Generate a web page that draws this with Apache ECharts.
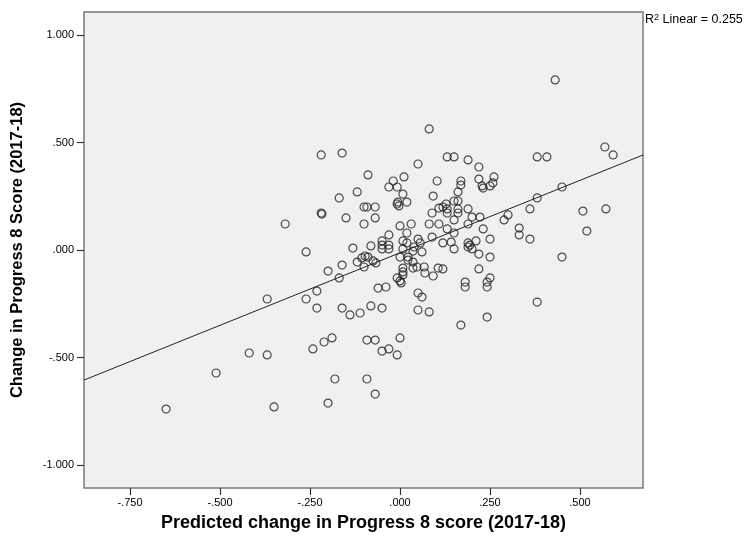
<!DOCTYPE html>
<html>
<head>
<meta charset="utf-8">
<script src="https://cdn.jsdelivr.net/npm/echarts@6/dist/echarts.min.js"></script>
<style>
html,body{margin:0;padding:0;background:#fff;}
#chart{width:749px;height:541px;}
</style>
</head>
<body>
<div id="chart"></div>
<script>
// Observed schools: [predicted change, actual change]
const schools = [
  [0.431,0.791],[0.081,0.563],[-0.219,0.442],[-0.161,0.451],[0.050,0.400],[0.131,0.433],[0.150,0.433],[0.189,0.419],
  [0.219,0.386],[0.381,0.433],[0.408,0.433],[0.569,0.479],[0.592,0.442],[-0.089,0.349],[0.011,0.340],[-0.019,0.321],
  [-0.031,0.293],[-0.008,0.293],[0.103,0.321],[-0.119,0.270],[0.008,0.260],[-0.169,0.242],[0.092,0.251],[-0.006,0.223],
  [-0.008,0.214],[-0.003,0.205],[0.019,0.223],[-0.100,0.200],[-0.092,0.200],[-0.069,0.200],[-0.219,0.172],[-0.217,0.167],
  [0.089,0.172],[0.108,0.195],[-0.150,0.149],[-0.069,0.149],[-0.319,0.121],[-0.100,0.121],[0.000,0.112],[0.031,0.121],
  [0.081,0.121],[0.108,0.121],[0.019,0.079],[-0.031,0.070],[0.050,0.051],[0.089,0.060],[-0.050,0.042],[-0.050,0.023],
  [-0.050,0.005],[-0.031,0.023],[-0.031,0.005],[0.008,0.042],[0.019,0.033],[0.039,0.014],[0.056,0.033],[-0.081,0.019],
  [-0.131,0.009],[-0.261,-0.009],[0.008,0.005],[0.036,-0.005],[0.061,-0.009],[0.000,-0.033],[0.022,-0.033],[0.022,-0.047],
  [-0.097,-0.028],[-0.089,-0.033],[-0.106,-0.037],[-0.119,-0.056],[-0.075,-0.051],[-0.067,-0.060],[0.036,-0.056],[0.047,-0.079],
  [0.036,-0.084],[0.067,-0.079],[0.106,-0.084],[-0.161,-0.070],[-0.100,-0.079],[0.008,-0.084],[0.008,-0.102],[0.069,-0.107],
  [0.092,-0.121],[-0.200,-0.098],[-0.169,-0.130],[0.008,-0.116],[-0.008,-0.130],[0.000,-0.144],[0.003,-0.153],[-0.061,-0.177],
  [-0.039,-0.172],[-0.231,-0.191],[-0.369,-0.228],[-0.261,-0.228],[0.050,-0.200],[0.061,-0.219],[-0.231,-0.270],[-0.161,-0.270],
  [-0.081,-0.260],[-0.050,-0.270],[-0.139,-0.302],[-0.111,-0.293],[0.050,-0.279],[0.081,-0.288],[0.169,0.321],[0.169,0.302],
  [0.219,0.330],[0.261,0.340],[0.258,0.312],[0.250,0.298],[0.228,0.298],[0.231,0.288],[0.161,0.270],[0.150,0.228],
  [0.161,0.228],[0.128,0.214],[0.119,0.200],[0.131,0.191],[0.161,0.191],[0.161,0.172],[0.189,0.191],[0.131,0.172],
  [0.150,0.140],[0.200,0.153],[0.222,0.153],[0.189,0.121],[0.131,0.098],[0.150,0.079],[0.231,0.098],[0.250,0.051],
  [0.142,0.037],[0.119,0.033],[0.189,0.033],[0.189,0.014],[0.194,0.023],[0.211,0.042],[0.150,0.005],[0.200,0.005],
  [0.219,-0.019],[0.250,-0.033],[0.300,0.163],[0.289,0.140],[0.381,0.242],[0.450,0.293],[0.361,0.191],[0.331,0.102],
  [0.331,0.070],[0.361,0.051],[0.508,0.181],[0.572,0.191],[0.519,0.088],[0.450,-0.033],[0.119,-0.088],[0.219,-0.088],
  [0.250,-0.130],[0.181,-0.149],[0.181,-0.172],[0.242,-0.149],[0.242,-0.172],[0.381,-0.242],[0.242,-0.312],[0.169,-0.349],
  [-0.419,-0.479],[-0.369,-0.488],[-0.242,-0.460],[-0.211,-0.428],[-0.189,-0.409],[-0.092,-0.419],[-0.069,-0.419],[-0.050,-0.470],
  [-0.031,-0.460],[-0.008,-0.488],[0.000,-0.409],[-0.181,-0.600],[-0.092,-0.600],[-0.069,-0.670],[-0.200,-0.712],[-0.350,-0.730],
  [-0.650,-0.740],[-0.511,-0.572]
];
// Fit line end points as seen at the plot edges
const fitX = [-0.878, 0.675];
const fitY = [-0.605, 0.442];
const xTicks = [-0.75, -0.5, -0.25, 0, 0.25, 0.5];
const yTicks = [-1, -0.5, 0, 0.5, 1];
const xTitle = 'Predicted change in Progress 8 score (2017-18)';
const yTitle = 'Change in Progress 8 Score (2017-18)';
const r2Text = '0.255';

function fmt(v){
  let s = Math.abs(v).toFixed(3);
  if (s.startsWith('0')) s = s.slice(1);
  return (v < 0 ? '-' : '') + s;
}

const lineData = fitX.map((x, i) => [x, fitY[i]]);

const chart = echarts.init(document.getElementById('chart'), null, {renderer: 'canvas'});
const font = 'Liberation Sans, Arial, sans-serif';
chart.setOption({
  animation: false,
  backgroundColor: '#ffffff',
  grid: {
    left: 84, right: 106, top: 12, bottom: 53,
    show: true, backgroundColor: '#f0f0f0', borderColor: '#7a7a7a', borderWidth: 1.5
  },
  xAxis: {
    type: 'value', min: -0.878, max: 0.675,
    splitLine: {show: false},
    axisLine: {show: false, onZero: false},
    axisTick: {show: true, inside: false, customValues: xTicks, length: 7, lineStyle: {color: '#333', width: 1.2}},
    axisLabel: {customValues: xTicks, formatter: fmt, color: '#000', fontFamily: font, fontSize: 11, margin: 9},
    name: xTitle, nameLocation: 'middle', nameGap: 26,
    nameTextStyle: {color: '#000', fontFamily: font, fontSize: 18, fontWeight: 'bold'}
  },
  yAxis: {
    type: 'value', min: -1.107, max: 1.107,
    splitLine: {show: false},
    axisLine: {show: false, onZero: false},
    axisTick: {show: true, inside: false, customValues: yTicks, length: 7, lineStyle: {color: '#333', width: 1.2}},
    axisLabel: {customValues: yTicks, formatter: fmt, color: '#000', fontFamily: font, fontSize: 11, margin: 10},
    name: yTitle, nameLocation: 'middle', nameGap: 58,
    nameTextStyle: {color: '#000', fontFamily: font, fontSize: 16.5, fontWeight: 'bold'}
  },
  series: [
    {
      type: 'scatter', data: schools, symbol: 'circle', symbolSize: 8,
      itemStyle: {color: 'rgba(0,0,0,0)', borderColor: '#222', borderWidth: 1.2}
    },
    {
      type: 'line', data: lineData, symbol: 'none',
      lineStyle: {color: '#222', width: 1}
    }
  ],
  graphic: [{
    type: 'text', left: 645, top: 13,
    style: {
      rich: {
        a: {fontSize: 12.5, fontFamily: font, fill: '#000'},
        s: {fontSize: 9, fontFamily: font, fill: '#000', verticalAlign: 'top', padding: [0,0,5,0]}
      },
      text: '{a|R}{s|2}{a| Linear = ' + r2Text + '}'
    }
  }]
});
</script>
</body>
</html>
